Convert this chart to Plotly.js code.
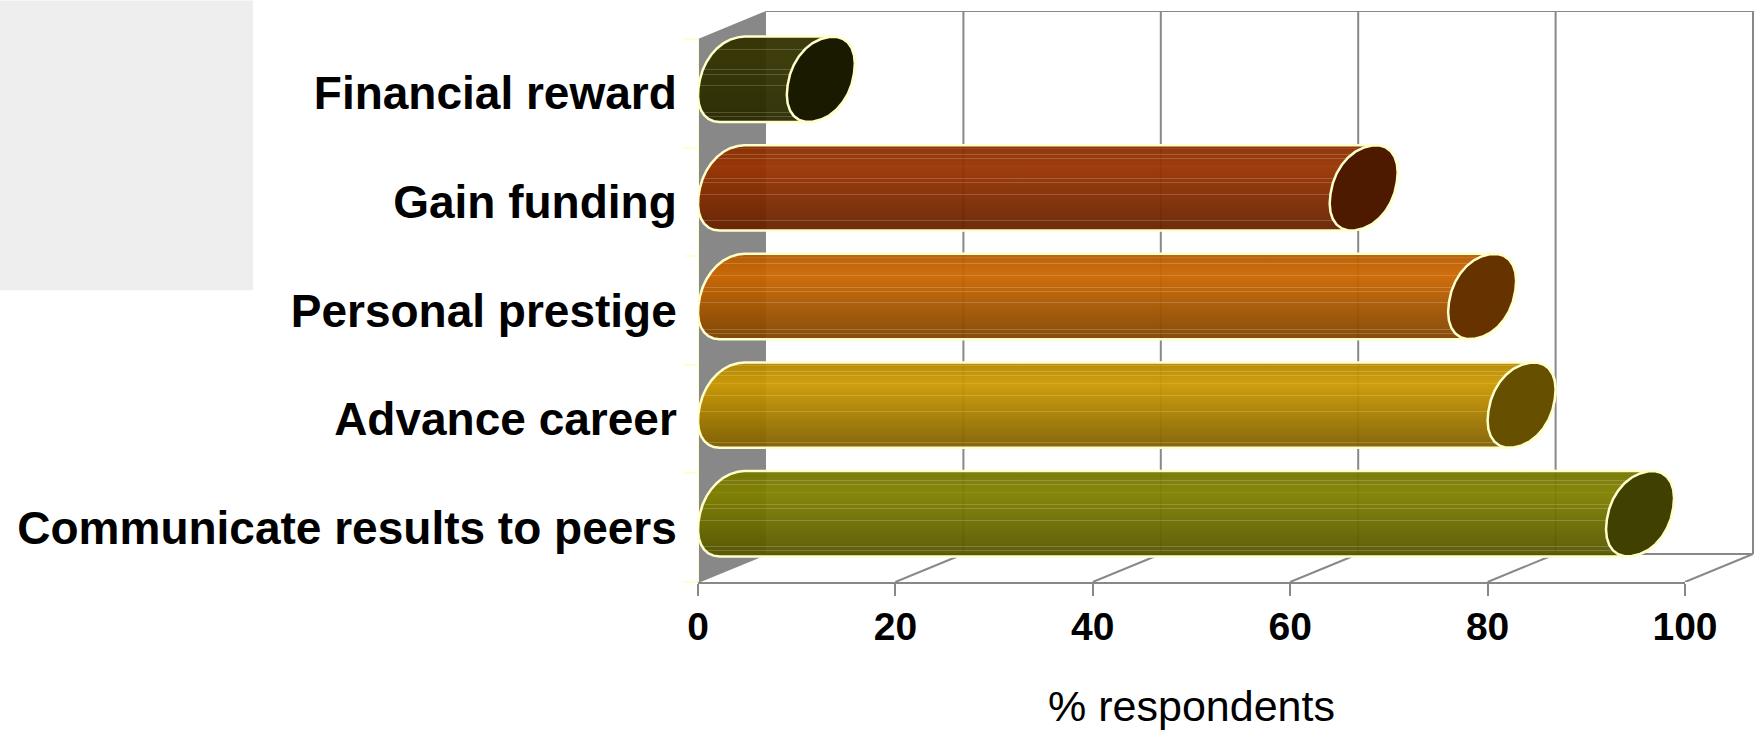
<!DOCTYPE html>
<html><head><meta charset="utf-8">
<script src="https://cdn.plot.ly/plotly-3.0.0.min.js"></script>
<style>html,body{margin:0;padding:0;background:#fff}</style></head>
<body><div id="chart" style="width:1758px;height:731px"></div>
<script>
// Bottom to top, as drawn on the value axis
const categories = ["Communicate results to peers","Advance career","Personal prestige","Gain funding","Financial reward"];
const percentRespondents = [92, 80, 76, 64, 9];
const bodyTop    = ["#808000","#cc9900","#cc6600","#993300","#333300"];
const bodyBottom = ["#555500","#7f5f00","#7f4400","#662200","#2a2a00"];
const capColors  = ["#404000","#665000","#663300","#4d1a00","#1a1a00"];
const xTicks = [0,20,40,60,80,100];
const streaks = [0.04,0.11,0.155,0.25,0.39,0.44,0.575,0.885,0.935];

const W = 1758, H = 731;
const L = 698, R = 1685, T = 10.5, B = 582;
const pxX = (R-L)/100;                // px per % on x
const catPx = 108.7;                  // px per category on y
const DX = 68/pxX, DY = 28/catPx;     // depth of the 3-D box in data units
const yMax = 4.5 + DY, yFloor = -0.5 + DY;
const RX = DX/2, RY = 0.393, TILT = 20*Math.PI/180, ROUND = 0.94;
const EDGE = "#ffffcc", GRID = "#888888";

const spow = (v,p) => Math.sign(v)*Math.pow(Math.abs(v),p);
function ell(cx, cy, from, to, n){
  const xs=[], ys=[];
  for(let i=0;i<=n;i++){ const t=from+(to-from)*i/n;
    xs.push(cx+RX*spow(Math.cos(t),ROUND)); ys.push(cy+RY*spow(Math.sin(t+TILT),ROUND)); }
  return [xs,ys];
}
function mix(c, a){
  const n=parseInt(c.slice(1),16);
  return `rgba(${n>>16},${(n>>8)&255},${n&255},${a})`;
}
function lighten(c, k){
  const n=parseInt(c.slice(1),16);
  const f=v=>Math.round(v+(255-v)*k);
  return `rgba(${f(n>>16)},${f((n>>8)&255)},${f(n&255)},0.95)`;
}
function scale(top,bottom){
  const a=parseInt(top.slice(1),16), b=parseInt(bottom.slice(1),16);
  const at=f=>{ // f 0=bottom of bar … 1=top
    const g = f>0.75 ? 1-(f-0.75)*1.2 : f/0.75;
    const ch=s=>Math.round(((b>>s)&255)+(((a>>s)&255)-((b>>s)&255))*g);
    return '#'+[16,8,0].map(s=>ch(s).toString(16).padStart(2,'0')).join('');
  };
  const stops=[]; const w=0.005;
  let all=[];
  for(let i=0;i<=24;i++) all.push([i/24,null]);
  streaks.map(s=>1-s).forEach(s=>{all.push([s-w,null]);all.push([s-w+1e-4,'L']);all.push([s+w,'L']);all.push([s+w+1e-4,null]);});
  all.sort((p,q)=>p[0]-q[0]);
  all.forEach(([p,k])=>{ const c=at(p);
    stops.push([p, k?lighten(c,0.18):mix(c,0.95)]); });
  return stops;
}

const seg=(x0,y0,x1,y1)=>({type:'line',xref:'paper',yref:'y',layer:'below',
  x0:x0/100,x1:x1/100,y0:y0,y1:y1,line:{color:GRID,width:2}});

const shapes=[{type:'rect',xref:'paper',yref:'paper',layer:'below',
  x0:(0-L)/(R-L),x1:(253-L)/(R-L),y0:(B-290)/(B-T),y1:(B-0)/(B-T),fillcolor:'#eeeeee',line:{width:0}}];
xTicks.forEach(v=>{
  if(v>0) shapes.push(seg(v+DX,yFloor,v+DX,yMax));
  shapes.push(seg(v,-0.5,v+DX,yFloor));
});
shapes.push(seg(DX,yMax,100+DX,yMax));
shapes.push(seg(DX,yFloor,100+DX,yFloor));

const traces=[];
traces.push({x:[0,DX,DX,0,0],y:[-0.5,yFloor,yMax,4.5,-0.5],mode:'lines',fill:'toself',
  fillcolor:GRID,line:{width:0,color:GRID},hoverinfo:'skip',showlegend:false});
traces.push({x:[0,0],y:[-0.5,4.5],mode:'lines',line:{color:EDGE,width:2},hoverinfo:'skip',showlegend:false,cliponaxis:false});

categories.forEach((c,i)=>{
  const v=percentRespondents[i], cy=i+DY/2, x0=RX, x1=v+RX;
  const tTop=Math.PI/2-TILT, tBot=-Math.PI/2-TILT;
  const [lx,ly]=ell(x0,cy,tTop,2*Math.PI+tBot,16);
  const [rx,ry]=ell(x1,cy,tBot,tTop,14);
  traces.push({x:lx.concat(rx,[lx[0]]),y:ly.concat(ry,[ly[0]]),mode:'lines',fill:'toself',
    fillgradient:{type:'vertical',colorscale:scale(bodyTop[i],bodyBottom[i]),start:cy-RY,stop:cy+RY},
    line:{color:EDGE,width:2.5},name:c,hoverinfo:'name',showlegend:false});
  const [ex,ey]=ell(x1,cy,0,2*Math.PI,28);
  traces.push({x:ex,y:ey,mode:'lines',fill:'toself',fillcolor:capColors[i],
    line:{color:EDGE,width:2.5},hoverinfo:'skip',showlegend:false});
});

const font='"Liberation Sans", Arial, sans-serif';
const layout={
  width:W,height:H,paper_bgcolor:'#fff',plot_bgcolor:'rgba(0,0,0,0)',showlegend:false,
  margin:{l:L,r:W-R,t:T,b:H-B,pad:0,autoexpand:false},
  xaxis:{range:[0,100],tickvals:xTicks,ticks:'outside',ticklen:12,tickwidth:2,tickcolor:GRID,
    showgrid:false,zeroline:false,showline:true,linecolor:GRID,linewidth:2,
    tickfont:{family:font,size:39,color:'#000',weight:'bold'},ticklabelstandoff:-3,
    title:{text:'% respondents',font:{family:font,size:43,color:'#000'},standoff:44},automargin:false},
  yaxis:{range:[-0.5,yMax],tickvals:[0,1,2,3,4],ticktext:categories,ticks:'outside',ticklen:12,tickcolor:'rgba(0,0,0,0)',
    showgrid:false,zeroline:false,showline:false,ticklabelstandoff:-1,
    minor:{tickvals:[-0.5,0.5,1.5,2.5,3.5,4.5],ticks:'outside',ticklen:12,tickcolor:EDGE,tickwidth:2,showgrid:false},
    tickfont:{family:font,size:46,color:'#000',weight:'bold'},automargin:false},
  shapes:shapes
};
Plotly.newPlot('chart',traces,layout,{displayModeBar:false,staticPlot:true});
</script></body></html>
